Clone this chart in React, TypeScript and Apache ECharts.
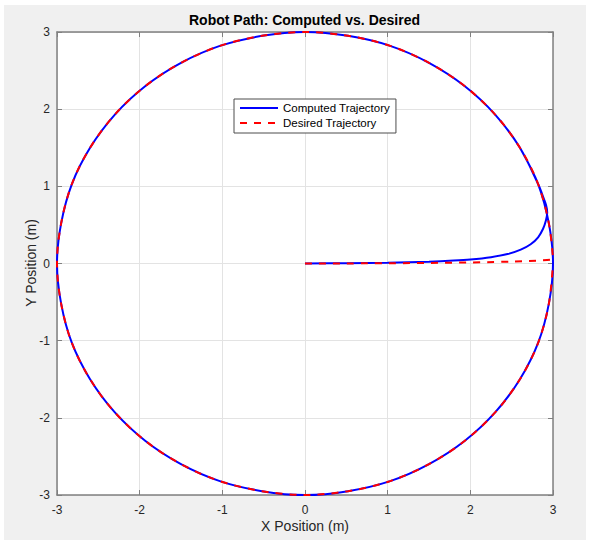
import React, { useEffect, useRef } from "react";
import * as echarts from "echarts";

const titleText = "Robot Path: Computed vs. Desired";
const xAxisName = "X Position (m)";
const yAxisName = "Y Position (m)";
const seriesNames = ["Computed Trajectory", "Desired Trajectory"];
const axisMin = -3;
const axisMax = 3;
const axisStep = 1;

// Circle of radius 3, every 10 degrees (0..360)
const circlePts: [number, number][] = [
  [3.0, 0.0], [2.95, 0.52], [2.82, 1.03], [2.6, 1.5], [2.3, 1.93], [1.93, 2.3],
  [1.5, 2.6], [1.03, 2.82], [0.52, 2.95], [0.0, 3.0], [-0.52, 2.95], [-1.03, 2.82],
  [-1.5, 2.6], [-1.93, 2.3], [-2.3, 1.93], [-2.6, 1.5], [-2.82, 1.03], [-2.95, 0.52],
  [-3.0, 0.0], [-2.95, -0.52], [-2.82, -1.03], [-2.6, -1.5], [-2.3, -1.93], [-1.93, -2.3],
  [-1.5, -2.6], [-1.03, -2.82], [-0.52, -2.95], [0.0, -3.0], [0.52, -2.95], [1.03, -2.82],
  [1.5, -2.6], [1.93, -2.3], [2.3, -1.93], [2.6, -1.5], [2.82, -1.03], [2.95, -0.52],
  [3.0, 0.0],
];

// Computed trajectory: start-up curve from origin to the circle
const computedStart: [number, number][] = [
  [0, 0], [0.5, 0.004], [1.0, 0.01], [1.5, 0.024], [1.8, 0.038], [2.0, 0.052],
  [2.25, 0.082], [2.45, 0.122], [2.61, 0.18], [2.73, 0.25], [2.82, 0.34],
  [2.88, 0.45], [2.915, 0.56], [2.93, 0.66], [2.915, 0.76], [2.875, 0.88],
];
// Computed trajectory: extra overlap after closing the loop
const computedEnd: [number, number][] = [[2.95, 0.52], [2.82, 1.03], [2.6, 1.5]];

// Desired trajectory: straight approach from origin to circle
const desiredStart: [number, number][] = [[0, 0], [3.0, 0.06]];

export default function App() {
  const ref = useRef<HTMLDivElement>(null);

  useEffect(() => {
    if (!ref.current) return;
    const chart = echarts.init(ref.current, undefined, { renderer: "svg" });
    const font = "'Liberation Sans', Arial, Helvetica, sans-serif";
    const axisColor = "#808080";
    const labelColor = "#262626";

    const computed = [...computedStart, ...circlePts.slice(2), ...computedEnd];
    const desired = [...desiredStart, ...circlePts.slice(1)];

    const baseAxis = {
      type: "value",
      min: axisMin,
      max: axisMax,
      interval: axisStep,
      axisLine: { show: true, onZero: false, lineStyle: { color: axisColor, width: 1.5 } },
      axisTick: { show: true, inside: true, length: 5, lineStyle: { color: axisColor, width: 1 } },
    };

    chart.setOption({
      animation: false,
      backgroundColor: "transparent",
      textStyle: { fontFamily: font },
      grid: {
        left: 53,
        top: 27,
        right: 33,
        bottom: 45,
        show: true,
        backgroundColor: "#ffffff",
        borderWidth: 0,
      },
      legend: {
        orient: "vertical",
        left: 230,
        top: 94,
        itemWidth: 38,
        itemHeight: 12,
        itemGap: 3,
        padding: [3, 6, 4, 5],
        backgroundColor: "#ffffff",
        borderColor: "#4d4d4d",
        borderWidth: 1,
        borderRadius: 0,
        selectedMode: false,
        itemStyle: { opacity: 0 },
        lineStyle: { opacity: 1 },
        textStyle: { fontSize: 11.5, color: "#000", fontFamily: font },
        data: seriesNames,
      },
      xAxis: [
        {
          ...baseAxis,
          position: "bottom",
          axisLabel: { show: true, color: labelColor, fontSize: 12, margin: 9, fontFamily: font },
          splitLine: { show: true, lineStyle: { color: "#e3e3e3", width: 1 } },
        },
        {
          ...baseAxis,
          position: "top",
          axisLabel: { show: false },
          splitLine: { show: false },
        },
      ],
      yAxis: [
        {
          ...baseAxis,
          position: "left",
          axisLabel: { show: true, color: labelColor, fontSize: 12, margin: 7, fontFamily: font },
          splitLine: { show: true, lineStyle: { color: "#e3e3e3", width: 1 } },
        },
        {
          ...baseAxis,
          position: "right",
          axisLabel: { show: false },
          splitLine: { show: false },
        },
      ],
      graphic: [
        {
          type: "text",
          x: 300.5,
          y: 15,
          style: {
            text: titleText,
            fontSize: 14,
            fontWeight: "bold",
            fontFamily: font,
            fill: "#000",
            align: "center",
            verticalAlign: "middle",
            textAlign: "center",
            textVerticalAlign: "middle",
          },
        },
        {
          type: "text",
          x: 301,
          y: 521,
          style: {
            text: xAxisName,
            fontSize: 14,
            fontFamily: font,
            fill: labelColor,
            align: "center",
            verticalAlign: "middle",
            textAlign: "center",
            textVerticalAlign: "middle",
          },
        },
        {
          type: "text",
          x: 27,
          y: 258,
          rotation: Math.PI / 2,
          style: {
            text: yAxisName,
            fontSize: 14,
            fontFamily: font,
            fill: labelColor,
            align: "center",
            verticalAlign: "middle",
            textAlign: "center",
            textVerticalAlign: "middle",
          },
        },
      ],
      series: [
        {
          name: seriesNames[0],
          type: "line",
          xAxisIndex: 0,
          yAxisIndex: 0,
          data: computed,
          showSymbol: false,
          symbol: "none",
          smooth: 0.33,
          silent: true,
          z: 2,
          lineStyle: { color: "#0000ff", width: 2 },
          itemStyle: { color: "#0000ff" },
        },
        {
          name: seriesNames[1],
          type: "line",
          xAxisIndex: 0,
          yAxisIndex: 0,
          data: desired,
          showSymbol: false,
          symbol: "none",
          smooth: 0.33,
          silent: true,
          z: 3,
          lineStyle: { color: "#ff0000", width: 2, type: [7, 7] },
          itemStyle: { color: "#ff0000" },
        },
      ],
    });

    return () => chart.dispose();
  }, []);

  return (
    <div style={{ position: "absolute", left: 0, top: 0, width: 590, height: 540, background: "#ffffff" }}>
      <div style={{ position: "absolute", left: 4, top: 5, width: 582, height: 535, background: "#f0f0f0" }}>
        <div ref={ref} style={{ width: 582, height: 535 }} />
      </div>
    </div>
  );
}
